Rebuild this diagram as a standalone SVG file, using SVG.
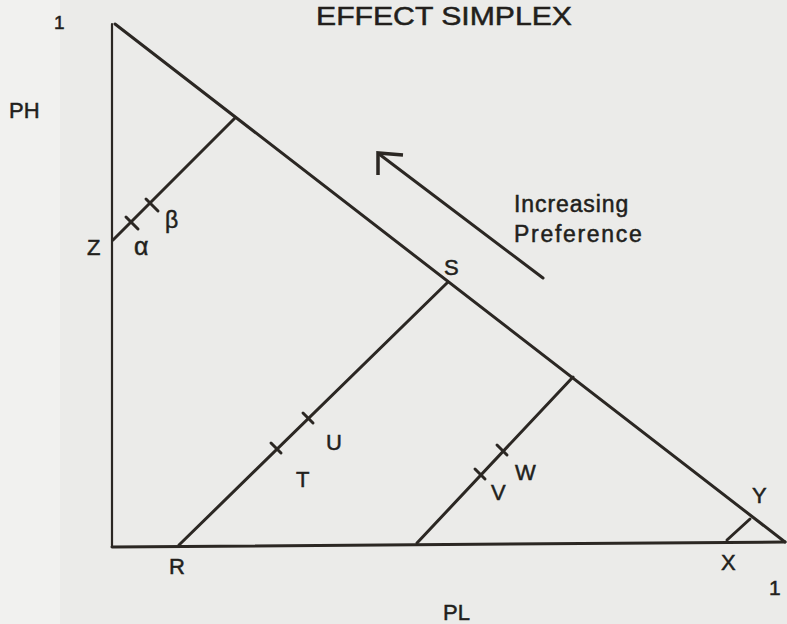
<svg xmlns="http://www.w3.org/2000/svg" width="787" height="624" viewBox="0 0 787 624">
<style>
.ln{stroke:#2b2723;stroke-width:3;fill:none;stroke-linecap:round}
.tk{stroke:#2b2723;stroke-width:3;stroke-linecap:round}
.t{font-family:"Liberation Sans",Arial,sans-serif;fill:#221f1c;stroke:#221f1c;stroke-width:0.5}
</style>
<rect width="787" height="624" fill="#ebebe9"/>
<rect width="60" height="624" fill="#f1f1ef"/>
<g id="axes">
<line class="ln" x1="112" y1="24" x2="112" y2="547" style="stroke-width:2.2"/>
<line class="ln" x1="112" y1="547" x2="785" y2="542"/>
<line class="ln" x1="115" y1="24" x2="785" y2="542"/>
</g>
<g id="connectors">
<line class="ln" x1="113" y1="240" x2="235" y2="118"/>
<line class="ln" x1="179" y1="545" x2="448" y2="282"/>
<line class="ln" x1="417" y1="543" x2="573" y2="377"/>
<line class="ln" x1="727" y1="540" x2="750" y2="519"/>
<line class="ln" x1="543" y1="278" x2="379" y2="154"/>
<polyline class="ln" points="403,155 378,153 378,175" style="stroke-width:3.5;stroke-linecap:butt"/>
</g>
<g id="ticks">
<line class="tk" x1="126" y1="217" x2="138" y2="229"/>
<line class="tk" x1="146" y1="199" x2="158" y2="211"/>
<line class="tk" x1="271" y1="443" x2="281" y2="453"/>
<line class="tk" x1="303" y1="413" x2="313" y2="423"/>
<line class="tk" x1="475" y1="469" x2="485" y2="479"/>
<line class="tk" x1="497" y1="445" x2="507" y2="455"/>
</g>
<g id="labels" font-size="22">
<text class="t" x="54" y="29" font-size="19">1</text>
<text class="t" x="316" y="25" font-size="26" textLength="256" lengthAdjust="spacingAndGlyphs">EFFECT SIMPLEX</text>
<text class="t" x="9" y="118" font-size="22">PH</text>
<text class="t" x="87" y="255">Z</text>
<text class="t" x="134" y="255" font-size="25">α</text>
<text class="t" x="165" y="228" font-size="23">β</text>
<text class="t" x="514" y="212" font-size="23" letter-spacing="0.9">Increasing</text>
<text class="t" x="514" y="242" font-size="23" letter-spacing="1.7">Preference</text>
<text class="t" x="444" y="275">S</text>
<text class="t" x="326" y="450">U</text>
<text class="t" x="296" y="487">T</text>
<text class="t" x="169" y="574">R</text>
<text class="t" x="515" y="480">W</text>
<text class="t" x="491" y="500">V</text>
<text class="t" x="752" y="503">Y</text>
<text class="t" x="721" y="570">X</text>
<text class="t" x="769" y="595" font-size="21">1</text>
<text class="t" x="443" y="620">PL</text>
</g>
</svg>
